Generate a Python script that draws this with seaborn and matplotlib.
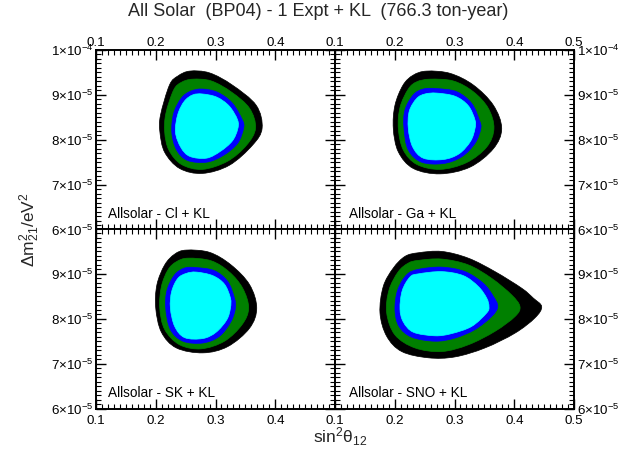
import matplotlib
matplotlib.use("Agg")
import matplotlib.pyplot as plt
from matplotlib.ticker import FixedLocator, FixedFormatter, MultipleLocator
from matplotlib.path import Path
from matplotlib.patches import PathPatch
import seaborn as sns

sns.set_style("white")
plt.rcParams['font.family'] = ['Liberation Sans', 'DejaVu Sans']
plt.rcParams['mathtext.fontset'] = 'custom'
plt.rcParams['mathtext.rm'] = 'Liberation Sans'
plt.rcParams['mathtext.it'] = 'Liberation Sans'
plt.rcParams['mathtext.bf'] = 'Liberation Sans:bold'

# ---------------- data (sin^2 theta12, dm2 in 1e-5 eV^2) ----------------
title = "All Solar  (BP04) - 1 Expt + KL  (766.3 ton-year)"
panel_labels = ["Allsolar - Cl + KL", "Allsolar - Ga + KL",
                "Allsolar - SK + KL", "Allsolar - SNO + KL"]
layer_colors = ["#000000", "#008000", "#0000ff", "#00ffff"]

x_ticks = [0.1, 0.2, 0.3, 0.4, 0.5]
x_tick_labels = ["0.1", "0.2", "0.3", "0.4", "0.5"]
y_ticks = [6, 7, 8, 9, 10]
y_tick_labels = [r"$\mathregular{6{\times}10^{-5}}$", r"$\mathregular{7{\times}10^{-5}}$",
                 r"$\mathregular{8{\times}10^{-5}}$", r"$\mathregular{9{\times}10^{-5}}$",
                 r"$\mathregular{1{\times}10^{-4}}$"]

# Panel 1: Cl + KL
cl_black_x = [0.257, 0.290, 0.328, 0.368, 0.378, 0.362, 0.323, 0.278, 0.240, 0.215, 0.207, 0.208, 0.223, 0.237]
cl_black_y = [9.53, 9.49, 9.22, 8.77, 8.26, 7.88, 7.43, 7.25, 7.36, 7.72, 8.17, 8.55, 9.22, 9.42]
cl_green_x = [0.262, 0.293, 0.327, 0.357, 0.367, 0.352, 0.320, 0.278, 0.243, 0.222, 0.215, 0.217, 0.230, 0.243]
cl_green_y = [9.35, 9.31, 9.06, 8.70, 8.26, 7.88, 7.52, 7.34, 7.45, 7.77, 8.17, 8.59, 9.11, 9.28]
cl_blue_x = [0.277, 0.303, 0.328, 0.345, 0.347, 0.337, 0.313, 0.285, 0.253, 0.235, 0.227, 0.230, 0.243, 0.258]
cl_blue_y = [9.13, 9.06, 8.82, 8.44, 8.26, 7.92, 7.65, 7.50, 7.54, 7.77, 8.15, 8.59, 8.93, 9.08]
cl_cyan_x = [0.278, 0.302, 0.323, 0.337, 0.337, 0.328, 0.308, 0.285, 0.257, 0.242, 0.233, 0.237, 0.248, 0.262]
cl_cyan_y = [9.02, 8.95, 8.75, 8.44, 8.23, 7.97, 7.74, 7.59, 7.63, 7.83, 8.17, 8.57, 8.86, 9.00]

# Panel 2: Ga + KL
ga_black_x = [0.2535, 0.2925, 0.3315, 0.365, 0.379, 0.365, 0.326, 0.276, 0.231, 0.206, 0.1976, 0.2004, 0.214, 0.231]
ga_black_y = [9.53, 9.48, 9.22, 8.77, 8.25, 7.80, 7.39, 7.24, 7.36, 7.73, 8.25, 8.77, 9.22, 9.44]
ga_green_x = [0.259, 0.298, 0.3315, 0.3566, 0.366, 0.354, 0.320, 0.276, 0.237, 0.2144, 0.206, 0.209, 0.2227, 0.2367]
ga_green_y = [9.35, 9.31, 9.07, 8.70, 8.25, 7.84, 7.49, 7.34, 7.45, 7.77, 8.25, 8.73, 9.13, 9.29]
ga_blue_x = [0.270, 0.3037, 0.3288, 0.3415, 0.344, 0.3343, 0.312, 0.2813, 0.245, 0.2227, 0.2155, 0.217, 0.231, 0.2478]
ga_blue_y = [9.14, 9.07, 8.81, 8.44, 8.25, 7.92, 7.62, 7.47, 7.50, 7.77, 8.25, 8.66, 9.00, 9.13]
ga_cyan_x = [0.270, 0.3008, 0.323, 0.3343, 0.3343, 0.327, 0.308, 0.2813, 0.2478, 0.230, 0.2227, 0.2244, 0.2367, 0.2506]
ga_cyan_y = [9.04, 8.97, 8.76, 8.44, 8.25, 7.97, 7.69, 7.56, 7.59, 7.84, 8.25, 8.64, 8.92, 9.02]

# Panel 3: SK + KL
sk_black_x = [0.251, 0.290, 0.326, 0.357, 0.369, 0.357, 0.3205, 0.279, 0.2345, 0.2095, 0.200, 0.202, 0.215, 0.2317]
sk_black_y = [9.53, 9.48, 9.20, 8.76, 8.24, 7.79, 7.38, 7.24, 7.35, 7.70, 8.24, 8.76, 9.20, 9.44]
sk_green_x = [0.254, 0.293, 0.3233, 0.3455, 0.3555, 0.3445, 0.315, 0.276, 0.240, 0.215, 0.2067, 0.2095, 0.2205, 0.2345]
sk_green_y = [9.35, 9.29, 9.04, 8.68, 8.24, 7.87, 7.50, 7.33, 7.42, 7.76, 8.24, 8.72, 9.09, 9.27]
sk_blue_x = [0.2678, 0.2983, 0.3205, 0.3317, 0.3333, 0.326, 0.3067, 0.279, 0.2455, 0.2245, 0.2167, 0.219, 0.2317, 0.2483]
sk_blue_y = [9.14, 9.07, 8.83, 8.46, 8.24, 7.94, 7.61, 7.46, 7.50, 7.76, 8.24, 8.64, 8.98, 9.13]
sk_cyan_x = [0.2678, 0.2955, 0.315, 0.325, 0.325, 0.319, 0.301, 0.279, 0.2483, 0.2317, 0.2245, 0.2267, 0.237, 0.251]
sk_cyan_y = [9.04, 8.96, 8.77, 8.46, 8.24, 7.98, 7.70, 7.56, 7.58, 7.83, 8.24, 8.61, 8.90, 9.01]

# Panel 4: SNO + KL
sno_black_x = [0.2394, 0.2786, 0.3231, 0.3678, 0.4125, 0.4319, 0.4459, 0.4347, 0.4013, 0.3510, 0.3008, 0.2562, 0.2116, 0.1865, 0.1753, 0.1808, 0.1976, 0.2172]
sno_black_y = [9.47, 9.50, 9.35, 9.05, 8.68, 8.46, 8.27, 8.02, 7.68, 7.35, 7.15, 7.13, 7.27, 7.61, 8.13, 8.72, 9.13, 9.39]
sno_green_x = [0.2394, 0.2786, 0.3231, 0.3622, 0.3957, 0.4096, 0.4013, 0.3678, 0.3231, 0.2786, 0.2339, 0.2004, 0.1865, 0.1904, 0.206, 0.2227]
sno_green_y = [9.30, 9.33, 9.20, 8.90, 8.53, 8.27, 8.05, 7.72, 7.42, 7.27, 7.35, 7.64, 8.13, 8.64, 9.05, 9.24]
sno_blue_x = [0.2394, 0.2786, 0.3176, 0.3482, 0.3650, 0.3723, 0.3622, 0.3343, 0.3008, 0.2674, 0.2284, 0.2071, 0.2004, 0.2049, 0.2200]
sno_blue_y = [9.10, 9.15, 9.05, 8.79, 8.50, 8.27, 8.05, 7.76, 7.57, 7.50, 7.59, 7.83, 8.20, 8.64, 8.98]
sno_cyan_x = [0.2394, 0.2786, 0.3148, 0.3398, 0.3539, 0.3577, 0.3539, 0.3288, 0.2953, 0.2674, 0.2312, 0.2143, 0.2088, 0.2126, 0.2255]
sno_cyan_y = [9.00, 9.05, 8.96, 8.72, 8.46, 8.27, 8.13, 7.83, 7.67, 7.62, 7.70, 7.93, 8.22, 8.63, 8.93]

panels = [
    [(cl_black_x, cl_black_y), (cl_green_x, cl_green_y), (cl_blue_x, cl_blue_y), (cl_cyan_x, cl_cyan_y)],
    [(ga_black_x, ga_black_y), (ga_green_x, ga_green_y), (ga_blue_x, ga_blue_y), (ga_cyan_x, ga_cyan_y)],
    [(sk_black_x, sk_black_y), (sk_green_x, sk_green_y), (sk_blue_x, sk_blue_y), (sk_cyan_x, sk_cyan_y)],
    [(sno_black_x, sno_black_y), (sno_green_x, sno_green_y), (sno_blue_x, sno_blue_y), (sno_cyan_x, sno_cyan_y)],
]


def smooth_region(xs, ys):
    """Closed path through the read points, drawn with Bezier joins."""
    n = len(xs)
    verts = [(xs[0], ys[0])]
    codes = [Path.MOVETO]
    for k in range(n):
        p0 = (xs[k - 1], ys[k - 1])
        p1 = (xs[k], ys[k])
        p2 = (xs[(k + 1) % n], ys[(k + 1) % n])
        p3 = (xs[(k + 2) % n], ys[(k + 2) % n])
        c1 = (p1[0] + (p2[0] - p0[0]) / 6.0, p1[1] + (p2[1] - p0[1]) / 6.0)
        c2 = (p2[0] - (p3[0] - p1[0]) / 6.0, p2[1] - (p3[1] - p1[1]) / 6.0)
        verts += [c1, c2, p2]
        codes += [Path.CURVE4] * 3
    return Path(verts, codes)


# ---------------- figure ----------------
W, H = 636, 457
fig = plt.figure(figsize=(W / 100, H / 100), dpi=100)
fig.patch.set_facecolor("white")

col_left = [96, 335]
col_w = 239
row_top = [50, 229]
row_h = 179.5

for i in range(4):
    r, c = divmod(i, 2)
    x0 = col_left[c] / W
    y0 = 1 - (row_top[r] + row_h) / H
    ax = fig.add_axes([x0, y0, col_w / W, row_h / H])
    ax.set_facecolor("white")
    for (xs, ys), colr in zip(panels[i], layer_colors):
        ax.add_patch(PathPatch(smooth_region(xs, ys), facecolor=colr,
                               edgecolor=colr, lw=0.5))
    ax.set_xlim(0.1, 0.5)
    ax.set_ylim(6, 10)

    # ticks
    if c == 0:
        xt, xl = x_ticks[:4], x_tick_labels[:4]
    else:
        xt, xl = x_ticks, x_tick_labels
    if r == 0:
        yt, yl = y_ticks, y_tick_labels
    else:
        yt, yl = y_ticks[:4], y_tick_labels[:4]
    ax.xaxis.set_major_locator(FixedLocator(xt))
    ax.xaxis.set_major_formatter(FixedFormatter(xl))
    ax.yaxis.set_major_locator(FixedLocator(yt))
    ax.yaxis.set_major_formatter(FixedFormatter(yl))
    ax.xaxis.set_minor_locator(MultipleLocator(0.01))
    ax.yaxis.set_minor_locator(MultipleLocator(0.1))
    ax.tick_params(which="both", direction="in", top=True, bottom=True,
                   left=True, right=True, colors="black", width=1.0,
                   labelsize=9.6)
    ax.tick_params(axis="y", pad=2)
    ax.tick_params(axis="x", pad=1 if r == 0 else 4.5)
    ax.tick_params(which="major", length=7)
    ax.tick_params(which="minor", length=3.5, width=0.8)
    ax.tick_params(axis="x", labeltop=(r == 0), labelbottom=(r == 1))
    ax.tick_params(axis="y", labelleft=(c == 0), labelright=(c == 1))
    for sp in ax.spines.values():
        sp.set_color("black")
        sp.set_linewidth(1.4)
        sp.set_visible(True)
    ax.text(0.12 if c == 0 else 0.124, 6.34, panel_labels[i], fontsize=9.8,
            ha="left", va="center", color="black")
    ax.grid(False)

fig.text(318 / W, 1 - 12 / H, title, ha="center", va="center", fontsize=13)
fig.text(30 / W, 1 - 230 / H, r"$\mathregular{\Delta m^2_{21}/eV^2}$",
         rotation=90, ha="center", va="center", fontsize=12.5)
fig.text(340 / W, 1 - 437 / H, r"$\mathregular{sin^2\theta_{12}}$",
         ha="center", va="center", fontsize=12.5)

fig.savefig("out.png", dpi=100, facecolor="white")
